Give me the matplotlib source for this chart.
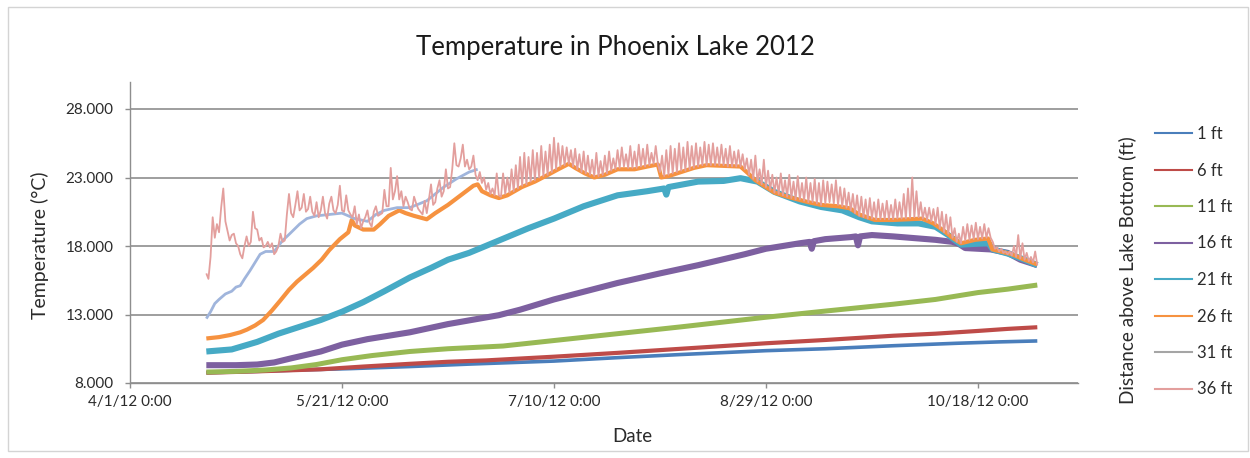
import numpy as np
import matplotlib
matplotlib.use("Agg")
import matplotlib.pyplot as plt
import matplotlib.dates as mdates
from matplotlib.lines import Line2D
from matplotlib.patches import Rectangle
from datetime import datetime

plt.rcParams['font.family'] = ['Lato', 'DejaVu Sans']

# ---------------------------------------------------------------------------
# Logger data: days after 4/1/12 0:00 and water temperature (deg C)
# ---------------------------------------------------------------------------
START = datetime(2012, 4, 1)

days_1ft = [18, 30, 40, 52, 66, 80, 100, 115, 130, 150, 164, 180, 195, 205, 214]
temp_1ft = [8.75, 8.85, 8.95, 9.05, 9.2, 9.38, 9.6, 9.85, 10.08, 10.36, 10.5,
            10.72, 10.9, 11.0, 11.07]

days_6ft = [18, 30, 45, 55, 66, 75, 84, 100, 115, 130, 150, 164, 180, 190, 200,
            207, 214]
temp_6ft = [8.75, 8.85, 9.0, 9.2, 9.4, 9.55, 9.65, 9.92, 10.2, 10.5, 10.9, 11.14,
            11.45, 11.6, 11.8, 11.95, 12.07]

days_11ft = [18, 25, 32, 38, 44, 50, 57, 66, 75, 88, 100, 115, 130, 150, 164,
             180, 190, 200, 207, 214]
temp_11ft = [8.8, 8.85, 8.95, 9.1, 9.35, 9.7, 10.0, 10.3, 10.5, 10.7, 11.1, 11.6,
             12.1, 12.8, 13.25, 13.75, 14.1, 14.6, 14.85, 15.15]

days_16ft = [18, 25, 30, 34, 38, 45, 50, 56, 60, 66, 75, 87, 92, 100, 110, 115,
             125, 134, 145, 150, 158, 160.3, 160.8, 161.3, 164, 170, 171.2, 171.7,
             172.2, 175, 180, 186, 190, 194, 195.5, 197, 203, 207, 210, 214]
temp_16ft = [9.3, 9.3, 9.35, 9.5, 9.8, 10.3, 10.8, 11.2, 11.4, 11.7, 12.3, 12.95,
             13.35, 14.1, 14.9, 15.3, 16.0, 16.6, 17.4, 17.8, 18.2, 18.3, 17.8,
             18.35, 18.5, 18.65, 18.7, 18.05, 18.7, 18.8, 18.7, 18.55, 18.45,
             18.3, 18.15, 17.85, 17.75, 17.5, 17.0, 16.6]

days_21ft = [18, 24, 30, 35, 40, 45, 50, 55, 60, 66, 71, 75, 80, 87, 94, 100,
             107, 115, 122, 126, 126.5, 127, 134, 140, 144, 148, 152, 158, 163,
             168, 172, 175, 181, 186, 190, 193, 196, 199, 202.5, 203.5, 207, 211,
             214]
temp_21ft = [10.3, 10.45, 11.0, 11.6, 12.1, 12.6, 13.2, 13.9, 14.7, 15.7, 16.4,
             17.0, 17.5, 18.4, 19.3, 20.0, 20.9, 21.7, 22.0, 22.2, 21.75, 22.3,
             22.7, 22.75, 22.95, 22.7, 21.95, 21.25, 20.85, 20.6, 20.1, 19.8,
             19.65, 19.65, 19.4, 18.8, 18.1, 18.15, 18.2, 17.75, 17.45, 17.0, 16.6]

days_26ft = [18, 21, 23.6, 26, 27.6, 29.5, 31.4, 33.5, 35.4, 37.5, 39.4, 41.3,
             43.2, 45.2, 47, 49.5, 51.5, 52.3, 53, 55, 57.5, 59, 61, 63.5, 65, 67,
             70, 72, 75, 78, 81, 82, 83, 85, 87, 89, 92.4, 95.5, 98.6, 101, 103.5,
             105, 107.3, 109.5, 112, 115, 119, 122, 124.5, 125.3, 127, 130, 133,
             136, 140, 144, 145.8, 147.5, 150, 152, 155, 157.5, 160, 163, 167,
             169.8, 172, 175.7, 180, 183.5, 186.8, 189.5, 192, 194, 196, 199.3,
             202.4, 203.4, 206, 208, 211, 214]
temp_26ft = [11.25, 11.35, 11.5, 11.7, 11.9, 12.2, 12.6, 13.3, 14.0, 14.8, 15.4,
             15.9, 16.4, 17.0, 17.7, 18.5, 19.0, 19.9, 19.5, 19.2, 19.2, 19.6,
             20.2, 20.6, 20.4, 20.2, 19.95, 20.4, 21.0, 21.7, 22.4, 22.5, 22.0,
             21.7, 21.5, 21.7, 22.3, 22.7, 23.2, 23.6, 24.0, 23.7, 23.3, 23.0,
             23.2, 23.6, 23.6, 23.8, 23.95, 23.0, 23.1, 23.4, 23.7, 23.9, 23.85,
             23.8, 23.3, 22.8, 22.3, 21.9, 21.6, 21.4, 21.2, 21.0, 20.9, 20.75,
             20.3, 19.9, 19.9, 19.95, 20.0, 19.65, 19.1, 18.6, 18.2, 18.45, 18.55,
             17.75, 17.55, 17.4, 17.0, 16.65]

days_31ft = [18, 19, 20, 21, 22.5, 24, 25, 26, 27, 28.3, 29.5, 30.7, 32, 34, 36,
             37.7, 40, 41.7, 44, 47, 50, 53, 56, 58, 60, 63, 66, 70, 74, 77, 80, 82]
temp_31ft = [12.7, 13.2, 13.8, 14.1, 14.5, 14.7, 15.0, 15.1, 15.6, 16.2, 16.8,
             17.4, 17.6, 17.6, 18.4, 18.9, 19.6, 20.0, 20.2, 20.3, 20.4, 20.0,
             19.8, 20.3, 20.6, 20.8, 20.8, 21.3, 22.3, 22.9, 23.4, 23.6]

# 36 ft logger: readings every 12 hours starting 4/19/12 0:00, one list per month
SURFACE_FIRST_DAY = 18.0
SURFACE_STEP_DAYS = 0.5
temp_36ft_apr = [16.0, 15.6, 17.2, 20.1, 18.6, 19.6, 19.0, 20.8, 22.2, 19.8,
                 19.1, 18.4, 18.8, 18.9, 18.2, 18.0, 17.4, 17.1, 18.0, 18.7,
                 18.0, 18.3, 20.5, 19.3]
temp_36ft_may = [19.2, 18.4, 18.6, 17.9, 18.0, 18.3, 17.9, 18.2, 17.4, 17.6,
                 18.0, 18.9, 18.3, 18.4, 20.3, 21.8, 20.4, 20.1, 21.0, 22.0,
                 20.6, 20.8, 21.8, 20.5, 20.7, 21.6, 20.5, 20.2, 21.2, 20.1,
                 20.6, 21.6, 20.4, 20.0, 21.1, 21.6, 20.6, 20.4, 21.0, 22.4,
                 20.6, 20.5, 21.7, 20.6, 20.3, 20.1, 20.9, 19.6, 20.3, 19.3,
                 19.8, 20.1, 20.6, 19.7, 19.4, 20.5, 20.9, 20.2, 20.3, 20.4,
                 22.1, 20.9]
temp_36ft_jun = [20.9, 23.7, 21.4, 22.0, 23.1, 21.4, 22.0, 20.9, 21.6, 21.2,
                 20.7, 20.6, 21.6, 21.1, 20.7, 20.5, 20.3, 21.3, 20.4, 21.4,
                 22.5, 21.0, 21.2, 22.2, 22.8, 21.6, 22.0, 23.6, 22.2, 22.3,
                 23.6, 25.5, 23.9, 23.8, 24.4, 25.4, 23.8, 24.3, 23.6, 23.8,
                 24.6, 23.2, 22.8, 23.4, 22.6, 23.0, 22.1, 22.6, 21.8, 22.2,
                 21.7, 23.3, 21.7, 21.6, 23.3, 21.8, 23.0, 21.9, 23.6, 22.0]
temp_36ft_jul = [23.9, 22.2, 24.5, 22.4, 24.8, 22.5, 24.5, 22.7, 25.0, 22.8,
                 24.8, 23.0, 25.3, 23.1, 24.9, 23.2, 25.4, 23.4, 25.9, 23.6,
                 25.5, 23.8, 25.3, 23.9, 25.2, 24.0, 25.0, 23.8, 25.1, 23.6,
                 24.7, 23.4, 24.9, 23.3, 24.6, 23.2, 24.3, 23.1, 24.8, 23.1,
                 24.2, 23.2, 24.6, 23.3, 24.9, 23.5, 24.4, 23.6, 25.0, 23.7,
                 25.2, 23.8, 24.7, 23.7, 25.3, 23.7, 24.9, 23.7, 25.4, 23.8,
                 25.1, 23.8]
temp_36ft_aug = [25.4, 23.9, 24.8, 24.0, 25.3, 24.0, 23.4, 24.6, 23.1, 25.0,
                 23.2, 25.3, 23.3, 25.1, 23.4, 25.5, 23.5, 25.2, 23.5, 25.6,
                 23.6, 25.3, 23.7, 25.5, 23.8, 25.2, 23.9, 25.6, 23.9, 25.4,
                 23.9, 25.5, 23.9, 25.2, 23.9, 25.4, 23.9, 25.1, 23.8, 25.3,
                 23.8, 24.9, 23.8, 25.0, 23.8, 24.7, 23.6, 24.4, 23.2, 24.3,
                 22.9, 24.6, 22.7, 23.6, 22.5, 24.3, 22.3, 23.5, 22.1, 23.2,
                 21.9, 23.0]
temp_36ft_sep = [21.8, 23.3, 21.7, 22.8, 21.6, 23.2, 21.5, 22.7, 21.4, 23.1,
                 21.4, 22.6, 21.3, 23.0, 21.2, 22.6, 21.2, 22.9, 21.1, 22.6,
                 21.0, 22.8, 21.1, 22.7, 21.2, 22.5, 21.1, 22.8, 21.0, 22.3,
                 20.9, 22.2, 20.8, 21.9, 20.6, 21.8, 20.4, 21.7, 20.2, 21.6,
                 20.1, 21.4, 20.0, 21.5, 20.0, 21.2, 19.95, 21.4, 19.95, 21.1,
                 19.95, 21.3, 19.95, 21.0, 19.95, 21.4, 20.0, 21.2, 20.0, 21.8]
temp_36ft_oct = [20.0, 22.2, 20.05, 23.0, 20.1, 22.0, 20.1, 21.2, 20.0, 20.8,
                 19.9, 20.8, 19.8, 20.7, 19.6, 20.8, 19.3, 20.5, 19.0, 20.3,
                 18.9, 20.1, 18.6, 19.3, 18.3, 18.9, 18.2, 19.4, 18.4, 19.6,
                 18.45, 19.5, 18.5, 19.7, 18.5, 19.4, 18.55, 19.6, 18.6, 19.3,
                 18.6, 18.3, 17.8, 17.9, 17.6, 17.8, 17.5, 17.6, 17.4, 17.6,
                 17.3, 18.0, 17.2, 18.8, 17.1, 18.2, 17.0, 17.5, 16.9, 17.2,
                 16.8, 17.6]
temp_36ft_nov = [16.6]

SERIES_LABELS = ['1 ft', '6 ft', '11 ft', '16 ft', '21 ft', '26 ft', '31 ft', '36 ft']
LINE_COLORS = ['#4A7EBB', '#BE4B48', '#98B954', '#7D60A0', '#46AAC5', '#F69240',
               '#A0B5DC', '#E39F9D']
KEY_COLORS = ['#4A7EBB', '#BE4B48', '#98B954', '#7D60A0', '#46AAC5', '#F69240',
              '#A5A5A5', '#E39F9D']
LINE_WIDTHS = [2.6, 3.0, 3.6, 4.4, 4.4, 3.0, 2.0, 1.3]

X_TICK_DAYS = [0, 50, 100, 150, 200]
X_TICK_LABELS = ['4/1/12 0:00', '5/21/12 0:00', '7/10/12 0:00', '8/29/12 0:00',
                 '10/18/12 0:00']
Y_TICKS = [8, 13, 18, 23, 28]

# ---------------------------------------------------------------------------
temp_36ft = (temp_36ft_apr + temp_36ft_may + temp_36ft_jun + temp_36ft_jul +
             temp_36ft_aug + temp_36ft_sep + temp_36ft_oct + temp_36ft_nov)
days_36ft = SURFACE_FIRST_DAY + SURFACE_STEP_DAYS * np.arange(len(temp_36ft))

series = [
    (days_1ft, temp_1ft), (days_6ft, temp_6ft), (days_11ft, temp_11ft),
    (days_16ft, temp_16ft), (days_21ft, temp_21ft), (days_26ft, temp_26ft),
    (days_31ft, temp_31ft), (days_36ft, temp_36ft),
]

d0 = mdates.date2num(START)

W, H = 1250, 458
fig = plt.figure(figsize=(W / 100, H / 100), dpi=100)
fig.patch.set_facecolor('white')

# outer chart-area frame
fig.patches.append(Rectangle((8 / W, 1 - 451 / H), (1248 - 8) / W, (451 - 7) / H,
                             transform=fig.transFigure, fill=False,
                             ec='#D4D4D4', lw=1.0))

ax = fig.add_axes([130 / W, 1 - 383 / H, (1078 - 130) / W, (383 - 81.6) / H])

for (d, t), c, lw in zip(series, LINE_COLORS, LINE_WIDTHS):
    ax.plot(d0 + np.asarray(d, dtype=float), np.asarray(t, dtype=float),
            color=c, lw=lw, solid_joinstyle='round', solid_capstyle='butt')

ax.set_xlim(d0, d0 + 223.6)
ax.set_ylim(8, 30)
ax.set_xticks([d0 + v for v in X_TICK_DAYS])
ax.set_xticklabels(X_TICK_LABELS)
ax.set_yticks(Y_TICKS)
ax.set_yticklabels([f'{v:.3f}' for v in Y_TICKS])

ax.yaxis.grid(True, color='#8E8E8E', lw=1.2)
ax.set_axisbelow(True)
for s in ('top', 'right'):
    ax.spines[s].set_visible(False)
for s in ('left', 'bottom'):
    ax.spines[s].set_color('#8E8E8E')
    ax.spines[s].set_linewidth(1.0)
ax.tick_params(axis='both', direction='out', length=3.5, width=1.0,
               color='#8E8E8E', labelsize=11, labelcolor='#2B2B2B')
ax.tick_params(axis='y', pad=8.5)
ax.tick_params(axis='x', pad=5)

fig.text(615 / W, 1 - 48 / H, 'Temperature in Phoenix Lake 2012',
         ha='center', va='center', fontsize=18.5, color='#1A1A1A')
fig.text(40 / W, 1 - 245 / H, 'Temperature (°C)', rotation=90,
         ha='center', va='center', fontsize=14, color='#2B2B2B')
fig.text(632 / W, 1 - 437 / H, 'Date', ha='center', va='center',
         fontsize=13.5, color='#2B2B2B')
fig.text(1127 / W, 1 - 270 / H, 'Distance above Lake Bottom (ft)', rotation=90,
         ha='center', va='center', fontsize=13.6, color='#2B2B2B')

handles = [Line2D([], [], color=c, lw=1.5) for c in KEY_COLORS]
fig.legend(handles, SERIES_LABELS, loc='upper left',
           bbox_to_anchor=(1155 / W, 1 - 126 / H), frameon=False,
           fontsize=12, labelspacing=1.23, handlelength=2.2, handletextpad=0.3,
           borderpad=0, borderaxespad=0, labelcolor='#2B2B2B')

fig.savefig('out.png', dpi=100)
